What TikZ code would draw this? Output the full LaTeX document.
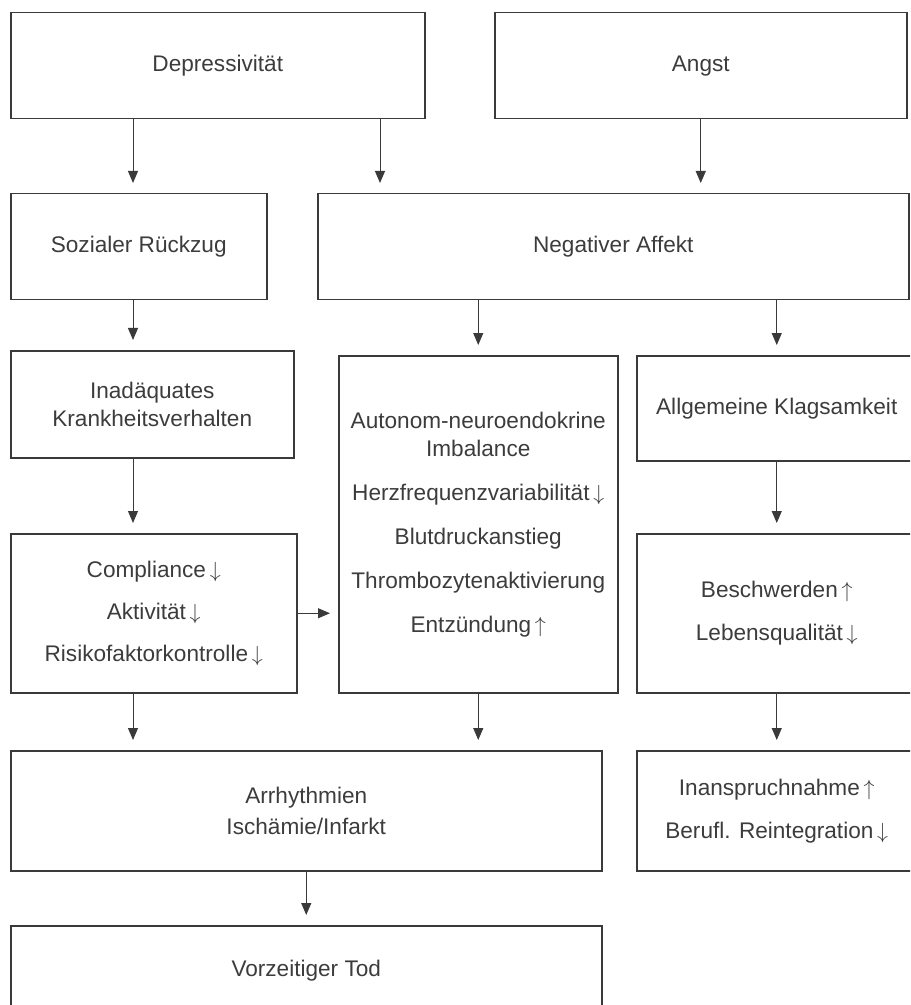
\documentclass[tikz,border=0pt]{standalone}
\usepackage{fontspec}
\setmainfont{Liberation Sans}
\usepackage{tikz}
\usetikzlibrary{arrows.meta,calc,positioning}
\definecolor{boxLine}{HTML}{3A3A3A}
\definecolor{boxText}{HTML}{3C3C3C}
\newcommand{\lessarrow}{\,$\downarrow$}
\newcommand{\morearrow}{\,$\uparrow$}
\tikzset{
  block/.style={draw=boxLine, line width=0.75pt, anchor=north west,
    align=center, inner sep=2pt, text=boxText,
    font=\fontsize{11.3}{14}\selectfont},
  flow/.style={-{Triangle[length=6pt,width=5pt]}, line width=0.5pt,
    draw=boxLine, shorten >=5pt}
}
\begin{document}
\begin{tikzpicture}[x=0.5pt, y=-0.5pt]
  \useasboundingbox (0,0) rectangle (910,1005);
  \clip (0,0) rectangle (910,1005);
  % top row
  \node[block, minimum width=207pt, minimum height=53pt] (dep) at (10,12)
    {Depressivität};
  \node[block, minimum width=206pt, minimum height=53pt] (ang) at (494,12)
    {Angst};
  % second row
  \node[block, minimum width=128pt, minimum height=53pt] (soz) at (10,193)
    {Sozialer Rückzug};
  \node[block, minimum width=295.5pt, minimum height=53pt] (neg) at (317,193)
    {Negativer Affekt};
  % third row
  \node[block, minimum width=141.5pt, minimum height=53.5pt] (inad) at (10,350)
    {Inadäquates\\Krankheitsverhalten};
  \node[block, minimum width=139.5pt, minimum height=168.5pt] (auto) at (338,355)
    {Autonom-neuroendokrine\\Imbalance\\[8pt]
     Herzfrequenzvariabilität\lessarrow\\[8pt]
     Blutdruckanstieg\\[8pt]
     Thrombozytenaktivierung\\[8pt]
     Entzündung\morearrow};
  \node[block, minimum width=140pt, minimum height=52.5pt] (klag) at (636,355)
    {Allgemeine Klagsamkeit};
  % fourth row
  \node[block, minimum width=143pt, minimum height=79.5pt] (comp) at (10,533)
    {Compliance\lessarrow\\[7pt]
     Aktivität\lessarrow\\[7pt]
     Risikofaktorkontrolle\lessarrow};
  \node[block, minimum width=140pt, minimum height=79.5pt] (besch) at (636,533)
    {Beschwerden\morearrow\\[7.5pt]
     Lebensqualität\lessarrow};
  % fifth row
  \node[block, minimum width=295.5pt, minimum height=60pt] (arrh) at (10,750)
    {Arrhythmien\\[1.5pt]
     Ischämie/Infarkt};
  \node[block, minimum width=140pt, minimum height=60pt] (inan) at (636,750)
    {Inanspruchnahme\morearrow\\[7.5pt]
     Berufl. Reintegration\lessarrow};
  % bottom
  \node[block, minimum width=295.5pt, minimum height=45pt] (tod) at (10,925)
    {Vorzeitiger Tod};
  % columns for the arrows
  \coordinate (colA) at (133,0);
  \coordinate (colB) at (380,0);
  % connectors
  \draw[flow] (dep.south -| colA) -- (soz.north -| colA);
  \draw[flow] (dep.south -| colB) -- (neg.north -| colB);
  \draw[flow] (ang.south) -- (ang.south |- neg.north);
  \draw[flow] (soz.south -| colA) -- (inad.north -| colA);
  \draw[flow] (auto.north |- neg.south) -- (auto.north);
  \draw[flow] (klag.north |- neg.south) -- (klag.north);
  \draw[flow] (inad.south -| colA) -- (comp.north -| colA);
  \draw[flow] (klag.south) -- (besch.north);
  \draw[flow, shorten >=4pt] (comp.east) -- (comp.east -| auto.west);
  \draw[flow] (comp.south -| colA) -- (arrh.north -| colA);
  \draw[flow] (auto.south) -- (auto.south |- arrh.north);
  \draw[flow] (besch.south) -- (inan.north);
  \draw[flow] (arrh.south) -- (tod.north);
\end{tikzpicture}
\end{document}
